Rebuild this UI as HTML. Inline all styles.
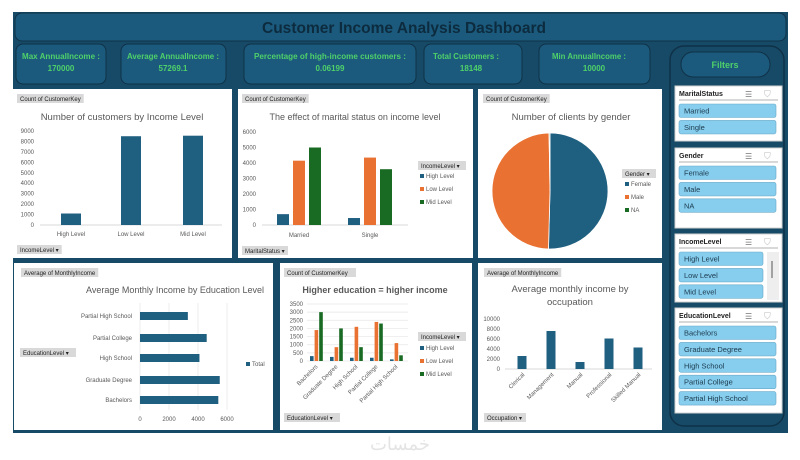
<!DOCTYPE html>
<html><head><meta charset="utf-8">
<style>
body{margin:0;width:800px;height:460px;background:#fff;overflow:hidden;font-family:"Liberation Sans",sans-serif}
svg{position:absolute;left:0;top:0}
text{font-family:"Liberation Sans",sans-serif}
</style></head>
<body>
<svg id="s" width="800" height="460" viewBox="0 0 800 460">
<rect x="13" y="12" width="775" height="421" fill="#174a66"/>
<rect x="15" y="13" width="771" height="28" rx="7" fill="#1b5a7c" stroke="#0f3148"/>
<text x="404" y="33" text-anchor="middle" font-size="16" font-weight="bold" fill="#0d2b3e" textLength="284" lengthAdjust="spacingAndGlyphs">Customer Income Analysis Dashboard</text>
<g font-size="8" fill="#4fd06a" text-anchor="middle" font-weight="bold">
<rect x="16" y="44" width="90" height="40" rx="7" fill="#1b5a7c" stroke="#0f3148"/>
<text x="61" y="59" textLength="78" lengthAdjust="spacingAndGlyphs">Max AnnualIncome :</text><text x="61" y="71">170000</text>
<rect x="121" y="44" width="105" height="40" rx="7" fill="#1b5a7c" stroke="#0f3148"/>
<text x="173" y="59" textLength="92" lengthAdjust="spacingAndGlyphs">Average AnnualIncome :</text><text x="173" y="71">57269.1</text>
<rect x="244" y="44" width="172" height="40" rx="7" fill="#1b5a7c" stroke="#0f3148"/>
<text x="330" y="59" textLength="152" lengthAdjust="spacingAndGlyphs">Percentage of high-income customers :</text><text x="330" y="71">0.06199</text>
<rect x="424" y="44" width="98" height="40" rx="7" fill="#1b5a7c" stroke="#0f3148"/>
<text x="466" y="59" textLength="66" lengthAdjust="spacingAndGlyphs">Total Customers :</text><text x="471" y="71">18148</text>
<rect x="539" y="44" width="111" height="40" rx="7" fill="#1b5a7c" stroke="#0f3148"/>
<text x="589" y="59" textLength="74" lengthAdjust="spacingAndGlyphs">Min AnnualIncome :</text><text x="594" y="71">10000</text>
</g>
<rect x="670" y="46" width="114" height="380" rx="14" fill="#174a66" stroke="#0f3148" stroke-width="1.5"/>
<rect x="681" y="52" width="89" height="25" rx="12" fill="#1b5a7c" stroke="#0f3148"/>
<text x="725" y="68" text-anchor="middle" font-size="9" font-weight="bold" fill="#4fd06a">Filters</text>
<g id="slicers"></g>
<rect x="13" y="89" width="219" height="169" fill="#fff"/>
<rect x="238" y="89" width="235" height="169" fill="#fff"/>
<rect x="478" y="89" width="184" height="169" fill="#fff"/>
<rect x="14" y="263" width="259" height="167" fill="#fff"/>
<rect x="280" y="263" width="192" height="167" fill="#fff"/>
<rect x="478" y="263" width="184" height="167" fill="#fff"/>
<g id="charts"></g>
<text x="400" y="450" text-anchor="middle" font-size="18" fill="#e4e4e4">خمسات</text>
</svg>
<script>
const ns="http://www.w3.org/2000/svg";
const C=document.getElementById('charts');
function el(t,a,p,txt){const e=document.createElementNS(ns,t);for(const k in a)e.setAttribute(k,a[k]);if(txt!==undefined)e.textContent=txt;(p||C).appendChild(e);return e;}
const BLUE="#1f5f80",ORANGE="#e97132",GREEN="#196b24",GRAY="#595959";

const c1Cats=["High Level","Low Level","Mid Level"];
const c1Vals=[1100,8500,8550];
const c1Ticks=[0,1000,2000,3000,4000,5000,6000,7000,8000,9000];
const c2Cats=["Married","Single"];
const c2High=[700,450];
const c2Low=[4150,4350];
const c2Mid=[5000,3600];
const c2Ticks=[0,1000,2000,3000,4000,5000,6000];
const c3Cats=["Female","Male","NA"];
const c3Vals=[9150,8950,48];
const c4Cats=["Partial High School","Partial College","High School","Graduate Degree","Bachelors"];
const c4Vals=[3300,4600,4100,5500,5400];
const c4Ticks=[0,2000,4000,6000];
const c5Cats=["Bachelors","Graduate Degree","High School","Partial College","Partial High School"];
const c5High=[300,250,200,200,100];
const c5Low=[1900,850,2100,2400,1100];
const c5Mid=[3000,2000,850,2300,350];
const c5Ticks=[0,500,1000,1500,2000,2500,3000,3500];
const c6Cats=["Clerical","Management","Manual","Professional","Skilled Manual"];
const c6Vals=[2600,7600,1400,6100,4300];
const c6Ticks=[0,2000,4000,6000,8000,10000];

function btn(x,y,w,label,name,arrow){
  const r=el('rect',{x:x,y:y,width:w,height:9,fill:"#d9d9d9"});
  
  
  const t=el('text',{x:x+3,y:y+7,'font-size':6,fill:"#222"},undefined,label+(arrow?"  ▾":""));
  
  
  const L=t.getComputedTextLength();
  if(L+6>w)r.setAttribute('width',L+6);
}
function title(x,y,s,name,opt){
  const t=el('text',{x:x,y:y,'text-anchor':'middle','font-size':opt&&opt.size||9.5,fill:GRAY,'font-weight':opt&&opt.bold?'bold':'normal'},undefined,s);
  
  
}
function legend(x,y,items,cols){
  items.forEach((s,i)=>{
    const r=el('rect',{x:x,y:y+i*13-4,width:4,height:4,fill:cols[i]});
    
    
    const t=el('text',{x:x+6,y:y+i*13,'font-size':6,fill:GRAY},undefined,s);
    
    
  });
}
function vaxis(ticks,x,y0,y1,max,name,grid,gx1){
  ticks.forEach(v=>{const y=y0-(v/max)*(y0-y1);
    if(grid){const g=el('line',{x1:x+4,x2:gx1,y1:y,y2:y,stroke:"#e6e6e6",'stroke-width':0.7});}
    const t=el('text',{x:x,y:y+2,'text-anchor':'end','font-size':6,fill:GRAY},undefined,v);
    });
}

{const y0=225,y1=131,max=9000;const ys=v=>y0-v/max*(y0-y1);const xs=[71,131,193];
btn(17,94,60,"Count of CustomerKey","c1-value-button",false);
title(122,120,"Number of customers by Income Level","c1-title");
vaxis(c1Ticks,34,y0,y1,max,"c1-y");
const ax=el('line',{x1:40,x2:222,y1:y0,y2:y0,stroke:"#d9d9d9"});
c1Cats.forEach((c,i)=>{const b=el('rect',{x:xs[i]-10,y:ys(c1Vals[i]),width:20,height:y0-ys(c1Vals[i]),fill:BLUE});

const t=el('text',{x:xs[i],y:236,'text-anchor':'middle','font-size':6,fill:GRAY},undefined,c);});
btn(17,245,44,"IncomeLevel","c1-axis-filter-button",true);}

{const y0=225,y1=132,max=6000;const ys=v=>y0-v/max*(y0-y1);const gx=[299,370];
btn(242,94,60,"Count of CustomerKey","c2-value-button",false);
title(355,120,"The effect of marital status on income level","c2-title",{size:9});
vaxis(c2Ticks,256,y0,y1,max,"c2-y");
const ax=el('line',{x1:262,x2:408,y1:y0,y2:y0,stroke:"#d9d9d9"});
c2Cats.forEach((c,i)=>{[[c2High,BLUE,'high'],[c2Low,ORANGE,'low'],[c2Mid,GREEN,'mid']].forEach((s,j)=>{
const v=s[0][i];const b=el('rect',{x:gx[i]-22+j*16,y:ys(v),width:12,height:y0-ys(v),fill:s[1]});
});
const t=el('text',{x:gx[i],y:237,'text-anchor':'middle','font-size':6,fill:GRAY},undefined,c);});
btn(418,161,48,"IncomeLevel","c2-legend-button",true);
legend(420,178,["High Level","Low Level","Mid Level"],[BLUE,ORANGE,GREEN]);
btn(242,246,46,"MaritalStatus","c2-axis-filter-button",true);}

{btn(483,94,60,"Count of CustomerKey","c3-value-button",false);
title(571,120,"Number of clients by gender","c3-title");
const cx=550,cy=191,r=58;const tot=c3Vals.reduce((a,b)=>a+b,0);let a0=-Math.PI/2;const cols=[BLUE,ORANGE,GREEN];
c3Cats.forEach((c,i)=>{const a1=a0+c3Vals[i]/tot*2*Math.PI;
const x0=cx+r*Math.cos(a0),y0=cy+r*Math.sin(a0),x1=cx+r*Math.cos(a1),y1=cy+r*Math.sin(a1);
const p=el('path',{d:`M${cx},${cy}L${x0},${y0}A${r},${r} 0 ${a1-a0>Math.PI?1:0} 1 ${x1},${y1}Z`,fill:cols[i],stroke:"#fff",'stroke-width':0.8});
a0=a1;});
btn(622,169,34,"Gender","c3-legend-button",true);
legend(625,186,c3Cats,cols);}

{const x0=140,x1=227,max=6000;const xs=v=>x0+v/max*(x1-x0);const ys=[316,338,358,380,400];
btn(21,268,76,"Average of MonthlyIncome","c4-value-button",false);
title(175,293,"Average Monthly Income by Education Level","c4-title",{size:9});
c4Ticks.forEach(v=>{const g=el('line',{x1:xs(v),x2:xs(v),y1:303,y2:410,stroke:"#e6e6e6",'stroke-width':0.7});
const t=el('text',{x:xs(v),y:421,'text-anchor':'middle','font-size':6,fill:GRAY},undefined,v);});
c4Cats.forEach((c,i)=>{const b=el('rect',{x:x0,y:ys[i]-4,width:xs(c4Vals[i])-x0,height:8,fill:BLUE});

const t=el('text',{x:132,y:ys[i]+2,'text-anchor':'end','font-size':6,fill:GRAY},undefined,c);});
btn(20,348,56,"EducationLevel","c4-axis-filter-button",true);
legend(246,366,["Total"],[BLUE]);}

{const y0=361,y1=304,max=3500;const ys=v=>y0-v/max*(y0-y1);
btn(284,268,72,"Count of CustomerKey","c5-value-button",false);
title(375,293,"Higher education = higher income","c5-title",{bold:true,size:9});
vaxis(c5Ticks,303,y0,y1,max,"c5-y",true,408);
c5Cats.forEach((c,i)=>{const gx=310+i*20;[[c5High,BLUE,'high'],[c5Low,ORANGE,'low'],[c5Mid,GREEN,'mid']].forEach((s,j)=>{
const v=s[0][i];const b=el('rect',{x:gx+j*4.6,y:ys(v),width:3.6,height:y0-ys(v),fill:s[1]});
});
const t=el('text',{x:gx+8,y:367,'text-anchor':'end','font-size':6,fill:GRAY,transform:`rotate(-45 ${gx+8} 367)`},undefined,c);});
btn(418,332,48,"IncomeLevel","c5-legend-button",true);
legend(420,350,["High Level","Low Level","Mid Level"],[BLUE,ORANGE,GREEN]);
btn(284,413,56,"EducationLevel","c5-axis-filter-button",true);}

{const y0=369,y1=319,max=10000;const ys=v=>y0-v/max*(y0-y1);const xs=[522,551,580,609,638];
btn(484,268,72,"Average of MonthlyIncome","c6-value-button",false);
title(570,292,"Average monthly income by","c6-title-line1");
title(570,305,"occupation","c6-title-line2");
vaxis(c6Ticks,500,y0,y1,max,"c6-y");
const ax=el('line',{x1:505,x2:652,y1:y0,y2:y0,stroke:"#d9d9d9"});
c6Cats.forEach((c,i)=>{const b=el('rect',{x:xs[i]-4.5,y:ys(c6Vals[i]),width:9,height:y0-ys(c6Vals[i]),fill:BLUE});

const t=el('text',{x:xs[i]+3,y:375,'text-anchor':'end','font-size':6,fill:GRAY,transform:`rotate(-45 ${xs[i]+3} 375)`},undefined,c);});
btn(484,413,42,"Occupation","c6-axis-filter-button",true);}

const S=document.getElementById('slicers');
const slicers=[["MaritalStatus",86,141,["Married","Single"],false],["Gender",148,228,["Female","Male","NA"],false],["IncomeLevel",234,302,["High Level","Low Level","Mid Level"],true],["EducationLevel",308,413,["Bachelors","Graduate Degree","High School","Partial College","Partial High School"],false]];
slicers.forEach(s=>{const[n,y0,y1,items,scroll]=s;const key=n.toLowerCase();
const bx=el('rect',{x:675,y:y0,width:107,height:y1-y0,fill:"#fff",stroke:"#d0d0d0"},S);
const h=el('text',{x:679,y:y0+10,'font-size':7,'font-weight':'bold',fill:"#222"},S,n);
const ic=el('text',{x:745,y:y0+11,'font-size':8,fill:"#777"},S,"☰");
const fi=el('text',{x:764,y:y0+11,'font-size':9,fill:"#bbb"},S,"⛉");
const ln=el('line',{x1:679,x2:778,y1:y0+14,y2:y0+14,stroke:"#b0b0b0"},S);
const w=scroll?84:97;
if(scroll){const sb=el('rect',{x:767,y:y0+18,width:12,height:y1-y0-20,fill:"#eeeeee"},S);
const th=el('line',{x1:772,x2:772,y1:y0+27,y2:y0+44,stroke:"#555"},S);}
items.forEach((it,i)=>{const y=y0+18+i*16.4;const r=el('rect',{x:679,y:y,width:w,height:13.5,rx:2,fill:"#86cdee",stroke:"#6aa9c8",'stroke-width':0.6},S);

const t=el('text',{x:684,y:y+9.5,'font-size':7.5,fill:"#1d3b4d"},S,it);});
});
</script>
</body></html>
